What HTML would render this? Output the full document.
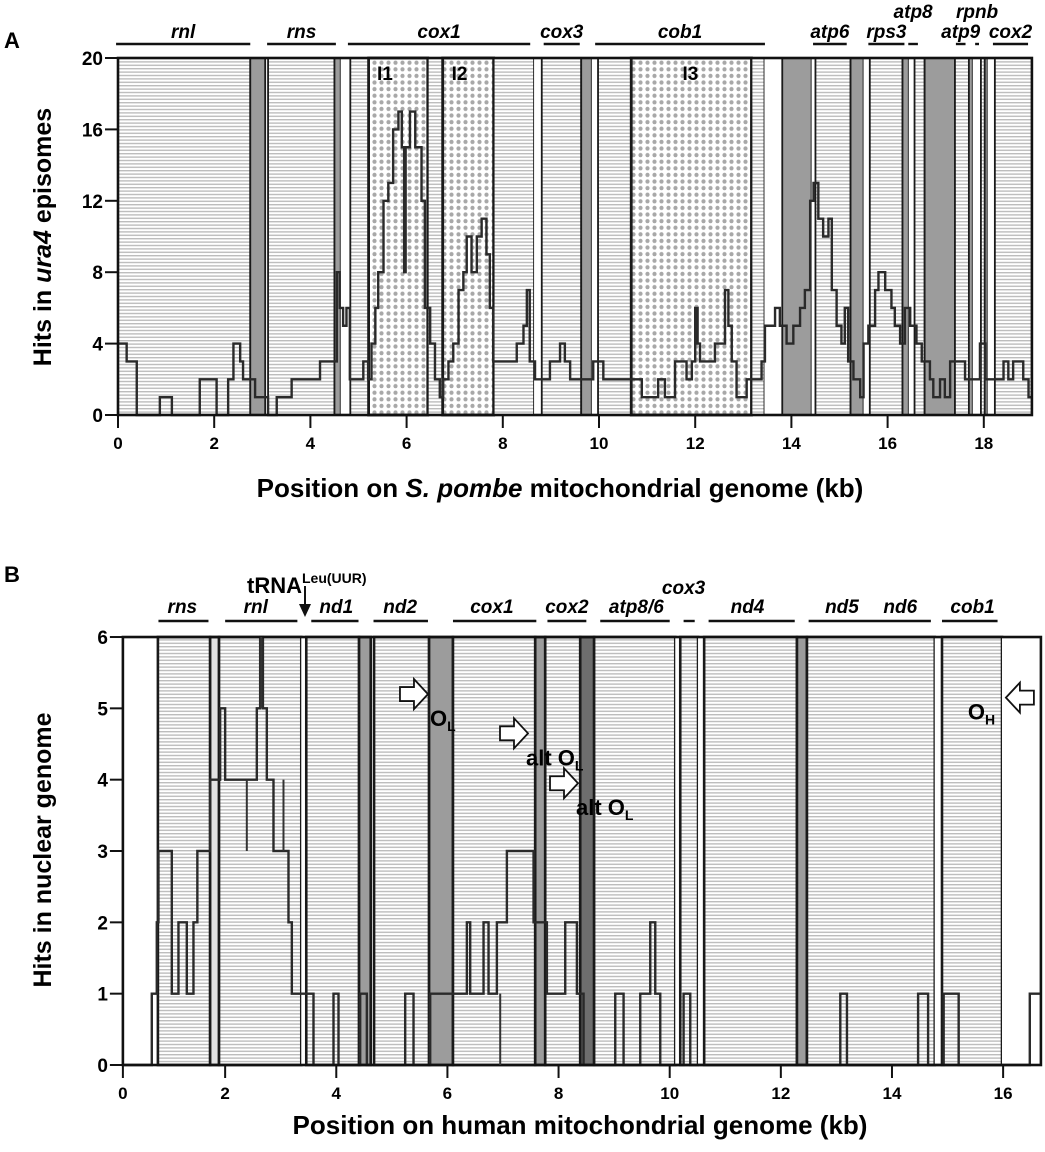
<!DOCTYPE html>
<html><head><meta charset="utf-8">
<style>
html,body{margin:0;padding:0;background:#fff;}
svg{display:block;font-family:"Liberation Sans",Arial,sans-serif;}
</style></head>
<body>
<svg id="fig" width="1045" height="1152" viewBox="0 0 1045 1152" xmlns="http://www.w3.org/2000/svg">
<defs>
<pattern id="hatch" width="8" height="3.4" patternUnits="userSpaceOnUse"><rect width="8" height="3.4" fill="#fff"/><rect y="0" width="8" height="1.4" fill="#bdbdbd"/></pattern>
<pattern id="dots" width="7" height="6.6" patternUnits="userSpaceOnUse"><rect width="7" height="6.6" fill="#fff"/><circle cx="3.5" cy="3.3" r="2.1" fill="#a8a8a8"/></pattern>
</defs>
<g id="panelA"></g>
<g id="panelB"></g>
</svg>
<script>
// ---------- Panel A data ----------
const aBandStart = [0,2.75,3.12,4.5,4.63,4.83,5.21,6.44,6.75,7.81,8.65,8.81,9.63,9.85,9.98,10.67,13.17,13.44,13.81,14.42,14.5,15.23,15.5,15.63,16.31,16.44,16.56,16.77,17.4,17.69,17.77,17.94,18.02,18.08,18.23];
const aBandEnd   = [2.75,3.06,4.5,4.63,4.83,5.21,6.44,6.75,7.81,8.65,8.81,9.63,9.85,9.98,10.67,13.17,13.44,13.81,14.42,14.5,15.23,15.5,15.63,16.31,16.44,16.56,16.77,17.4,17.69,17.77,17.94,18.02,18.08,18.23,19.0];
const aBandType  = ['h','g','h','g','w','h','d','h','d','h','w','h','g','w','h','d','h','w','g','w','h','g','w','h','g','w','h','g','h','g','w','h','g','w','h'];
const aTraceX = [0,0.18,0.39,0.87,1.12,1.70,2.05,2.29,2.40,2.54,2.60,2.85,3.12,3.30,3.61,4.2,4.55,4.61,4.68,4.75,4.82,5.1,5.2,5.27,5.35,5.41,5.52,5.62,5.72,5.83,5.9,5.95,5.98,6.07,6.18,6.31,6.38,6.49,6.59,6.69,6.76,6.87,6.97,7.08,7.18,7.25,7.35,7.46,7.56,7.66,7.73,7.80,8.29,8.43,8.50,8.56,8.67,8.98,9.19,9.29,9.4,9.88,10.09,10.89,11.23,11.37,11.58,11.82,11.93,12.0,12.05,12.1,12.41,12.62,12.69,12.76,12.86,13.07,13.38,13.45,13.66,13.76,13.9,14.04,14.18,14.28,14.39,14.46,14.56,14.66,14.77,14.84,14.94,15.04,15.11,15.18,15.29,15.43,15.5,15.6,15.74,15.81,15.95,16.08,16.15,16.26,16.36,16.47,16.6,16.71,16.88,16.95,17.09,17.19,17.3,17.61,17.92,18.03,18.41,18.51,18.61,18.82,18.93,19.0];
const aTraceY = [4,3,0,1,0,2,0,2,4,3,2,1,0,1,2,3,8,6,5,6,2,3,2,4,6,8,12,13,16,17,15,8,15,17,15,12,6,4,2,1,2,3,4,7,8,10,8,10,11,9,6,3,4,5,7,3,2,3,4,3,2,3,2,1,2,1,3,2,3,6,4,3,4,7,5,3,1,2,3,5,6,5,4,5,6,7,12,13,11,10,11,7,5,4,6,3,2,1,4,5,7,8,7,6,5,4,6,5,4,3,2,1,2,1,3,2,4,2,3,2,3,2,1,1];
const aYTicks = [0,4,8,12,16,20];
const aXTicks = [0,2,4,6,8,10,12,14,16,18];
const aGeneNames = ['rnl','rns','cox1','cox3','cob1','atp6','rps3','atp8','atp9','rpnb','cox2'];
const aGeneStart = [-0.04,3.1,4.78,8.85,9.92,14.45,15.6,16.43,17.42,17.82,18.19];
const aGeneEnd   = [2.75,4.53,8.57,9.6,13.45,15.15,16.35,16.63,17.62,17.9,18.92];
const aGeneRow   = [0,0,0,0,0,0,0,1,0,1,0];
const aIntronNames = ['I1','I2','I3'];
const aIntronPos = [5.55,7.1,11.9];

// ---------- Panel B data ----------
const bBandStart = [0.16,0.79,1.73,1.89,3.37,3.46,4.41,4.68,5.67,6.1,7.58,7.76,8.39,8.64,10.1,10.19,10.51,10.62,12.29,12.47,14.77,14.9,15.98];
const bBandEnd   = [0.79,1.73,1.89,3.37,3.46,4.41,4.62,5.67,6.1,7.58,7.76,8.39,8.64,10.1,10.19,10.51,10.62,12.29,12.47,14.77,14.9,15.98,16.68];
const bBandType  = ['w','h','l','h','w','h','g','h','g','h','g','h','k','h','w','h','w','h','g','h','w','h','w'];
const bTraceX = [0.16,0.68,0.77,0.80,1.04,1.16,1.31,1.43,1.50,1.73,1.91,2.0,2.57,2.63,2.68,2.75,2.87,3.14,3.2,3.59,3.95,4.04,4.43,4.55,5.24,5.39,5.69,6.35,6.41,6.65,6.74,6.89,7.07,7.55,7.79,8.12,8.33,8.45,9.02,9.17,9.47,9.65,9.74,9.83,10.25,10.37,13.07,13.19,14.47,14.65,14.93,15.2,16.48,16.66];
const bTraceY = [0,1,2,3,1,2,1,2,3,4,5,4,5,6,5,4,3,2,1,0,1,0,1,0,1,0,1,2,1,2,1,2,3,2,1,2,1,0,1,0,1,2,1,0,1,0,1,0,1,0,1,0,1,1];
const bSpikeX  = [2.39,3.05,2.65,6.95];
const bSpikeY0 = [4,3,6,1];
const bSpikeY1 = [3,4,5,0];
const bYTicks = [0,1,2,3,4,5,6];
const bXTicks = [0,2,4,6,8,10,12,14,16];
const bGeneNames = ['rns','rnl','nd1','nd2','cox1','cox2','atp8/6','cox3','nd4','nd5','nd6','cob1'];
const bGeneLabelX = [1.23,2.55,4.0,5.15,6.8,8.15,9.4,10.25,11.4,13.1,14.15,15.45];
const bGeneLineS = [0.8,2.0,3.55,4.67,6.1,7.8,8.75,10.25,10.7,12.5,null,14.9];
const bGeneLineE = [1.7,3.3,4.4,5.65,7.6,8.5,10.0,10.45,12.25,14.7,null,15.9];
const bGeneRow  = [0,0,0,0,0,0,0,1,0,0,0,0];
const bOriNames = ['OL','altOL1','altOL2','OH'];
const bOriX = [5.65,7.45,8.35,16.05];
const bOriY = [5.2,4.65,3.95,5.15];
const bOriDir = [1,1,1,-1];

// ---------- drawing ----------
const NS='http://www.w3.org/2000/svg';
function mk(parent,tag,attrs,text){const e=document.createElementNS(NS,tag);for(const k in attrs)e.setAttribute(k,attrs[k]);if(text!==undefined)e.textContent=text;parent.appendChild(e);return e;}

const ax = k => 118 + k*48.1;
const ay = v => 415 - v*17.85;
const bx = k => 114 + k*55.57;
const by = v => 1065 - v*71.33;

function fillFor(t){return t==='h'?'url(#hatch)':t==='d'?'url(#dots)':t==='g'?'#9c9c9c':t==='k'?'#6e6e6e':t==='l'?'#e2e2e2':'#fff';}

function drawPanel(g,xs,ys,bs,be,bt,traceX,traceY,yTicks,xTicks,x0,x1,y0,y1,bw){
  for(let i=0;i<bs.length;i++){
    const r=mk(g,'rect',{x:xs(bs[i]),y:ys(y1),width:Math.max(0.5,xs(be[i])-xs(bs[i])),height:ys(y0)-ys(y1),fill:fillFor(bt[i]),stroke:bt[i]==='w'?'none':'#1a1a1a','stroke-width':bt[i]==='d'?2.8:bw});
    
    
  }
  let d='M'+xs(traceX[0])+' '+ys(traceY[0]);
  for(let i=1;i<traceX.length;i++){d+=' H'+xs(traceX[i])+' V'+ys(traceY[i]);}
  const p=mk(g,'path',{d:d,fill:'none',stroke:'#2a2a2a','stroke-width':2.4});
  
  
  const f=mk(g,'rect',{x:xs(x0),y:ys(y1),width:xs(x1)-xs(x0),height:ys(y0)-ys(y1),fill:'none',stroke:'#111','stroke-width':2.6});
  
  
  const left=xs(x0);
  for(const v of yTicks){
    mk(g,'line',{x1:left-13,x2:left,y1:ys(v),y2:ys(v),stroke:'#111','stroke-width':2});
    const t=mk(g,'text',{x:left-15,y:ys(v)+7,'text-anchor':'end','font-size':19,'font-weight':'bold'},String(v));
    
    
  }
  for(const v of xTicks){
    const xx=Math.max(left,xs(v));
    mk(g,'line',{x1:xx,x2:xx,y1:ys(y0),y2:ys(y0)+13,stroke:'#111','stroke-width':2});
    const t=mk(g,'text',{x:xx,y:ys(y0)+34,'text-anchor':'middle','font-size':17,'font-weight':'bold'},String(v));
    
    
  }
}

const gA=document.getElementById('panelA');
drawPanel(gA,ax,ay,aBandStart,aBandEnd,aBandType,aTraceX,aTraceY,aYTicks,aXTicks,0,19,0,20,1.8);
for(let i=0;i<aIntronNames.length;i++){
  const t=mk(gA,'text',{x:ax(aIntronPos[i]),y:80,'text-anchor':'middle','font-size':19,'font-weight':'bold'},aIntronNames[i]);
  
  
}
for(let i=0;i<aGeneNames.length;i++){
  const l=mk(gA,'line',{x1:ax(aGeneStart[i]),x2:ax(aGeneEnd[i]),y1:44,y2:44,stroke:'#111','stroke-width':2.4});
  
  
  const cx=(ax(aGeneStart[i])+ax(aGeneEnd[i]))/2;
  const t=mk(gA,'text',{x:cx,y:aGeneRow[i]?18:38,'text-anchor':'middle','font-size':19,'font-weight':'bold','font-style':'italic'},aGeneNames[i]);
  
  
}

const gB=document.getElementById('panelB');
drawPanel(gB,bx,by,bBandStart,bBandEnd,bBandType,bTraceX,bTraceY,bYTicks,bXTicks,0.16,16.68,0,6,2.6);
for(let i=0;i<bSpikeX.length;i++){
  const s=mk(gB,'line',{x1:bx(bSpikeX[i]),x2:bx(bSpikeX[i]),y1:by(bSpikeY0[i]),y2:by(bSpikeY1[i]),stroke:'#333','stroke-width':2});
  
  
}
for(let i=0;i<bGeneNames.length;i++){
  if(bGeneLineS[i]!==null){
    const l=mk(gB,'line',{x1:bx(bGeneLineS[i]),x2:bx(bGeneLineE[i]),y1:621,y2:621,stroke:'#111','stroke-width':2.4});
    
    
  }
  const t=mk(gB,'text',{x:bx(bGeneLabelX[i]),y:bGeneRow[i]?594:613,'text-anchor':'middle','font-size':19,'font-weight':'bold','font-style':'italic'},bGeneNames[i]);
  
  
}
for(let i=0;i<bOriNames.length;i++){
  const x=bx(bOriX[i]), y=by(bOriY[i]), dir=bOriDir[i];
  const pts=dir>0?
    [[x-28,y-7],[x-14,y-7],[x-14,y-15],[x,y],[x-14,y+15],[x-14,y+7],[x-28,y+7]]:
    [[x+28,y-7],[x+14,y-7],[x+14,y-15],[x,y],[x+14,y+15],[x+14,y+7],[x+28,y+7]];
  const a=mk(gB,'polygon',{points:pts.map(p=>p.join(',')).join(' '),fill:'#fff',stroke:'#111','stroke-width':1.8});
  
  
  let lx,ly,pre='';
  if(bOriNames[i]==='OL'){lx=x+2;ly=y+32;}
  else if(bOriNames[i]==='OH'){lx=x-38;ly=y+22;}
  else {lx=x-2;ly=y+32;pre='alt ';}
  const t=mk(gB,'text',{x:lx,y:ly,'font-size':22,'font-weight':'bold'});
  
  
  mk(t,'tspan',{},pre+'O');
  mk(t,'tspan',{'font-size':14,dy:5},bOriNames[i]==='OH'?'H':'L');
}
</script>
<script>
(function(){
const svg=document.getElementById('fig');
const NS='http://www.w3.org/2000/svg';
function mk(tag,attrs,text){const e=document.createElementNS(NS,tag);for(const k in attrs)e.setAttribute(k,attrs[k]);if(text!==undefined)e.textContent=text;svg.appendChild(e);return e;}
let e;
e=mk('text',{x:4,y:48,'font-size':22,'font-weight':'bold'},'A');


e=mk('text',{x:4,y:582,'font-size':22,'font-weight':'bold'},'B');


e=mk('text',{x:0,y:0,'font-size':25,'font-weight':'bold','text-anchor':'middle',transform:'translate(51,237) rotate(-90)'});


e.innerHTML='Hits in <tspan font-style="italic">ura4</tspan> episomes';
e=mk('text',{x:0,y:0,'font-size':25,'font-weight':'bold','text-anchor':'middle',transform:'translate(51,850) rotate(-90)'},'Hits in nuclear genome');


e=mk('text',{x:560,y:497,'font-size':26,'font-weight':'bold','text-anchor':'middle'});


e.innerHTML='Position on <tspan font-style="italic">S. pombe</tspan> mitochondrial genome (kb)';
e=mk('text',{x:580,y:1134,'font-size':26,'font-weight':'bold','text-anchor':'middle'},'Position on human mitochondrial genome (kb)');


e=mk('text',{x:247,y:593,'font-size':22,'font-weight':'bold'});


e.innerHTML='tRNA<tspan font-size="14" dy="-10">Leu(UUR)</tspan>';
e=mk('line',{x1:305,x2:305,y1:586,y2:606,stroke:'#111','stroke-width':2});


e=mk('polygon',{points:'299,604 311,604 305,617',fill:'#111'});


})();
</script>
</body></html>
